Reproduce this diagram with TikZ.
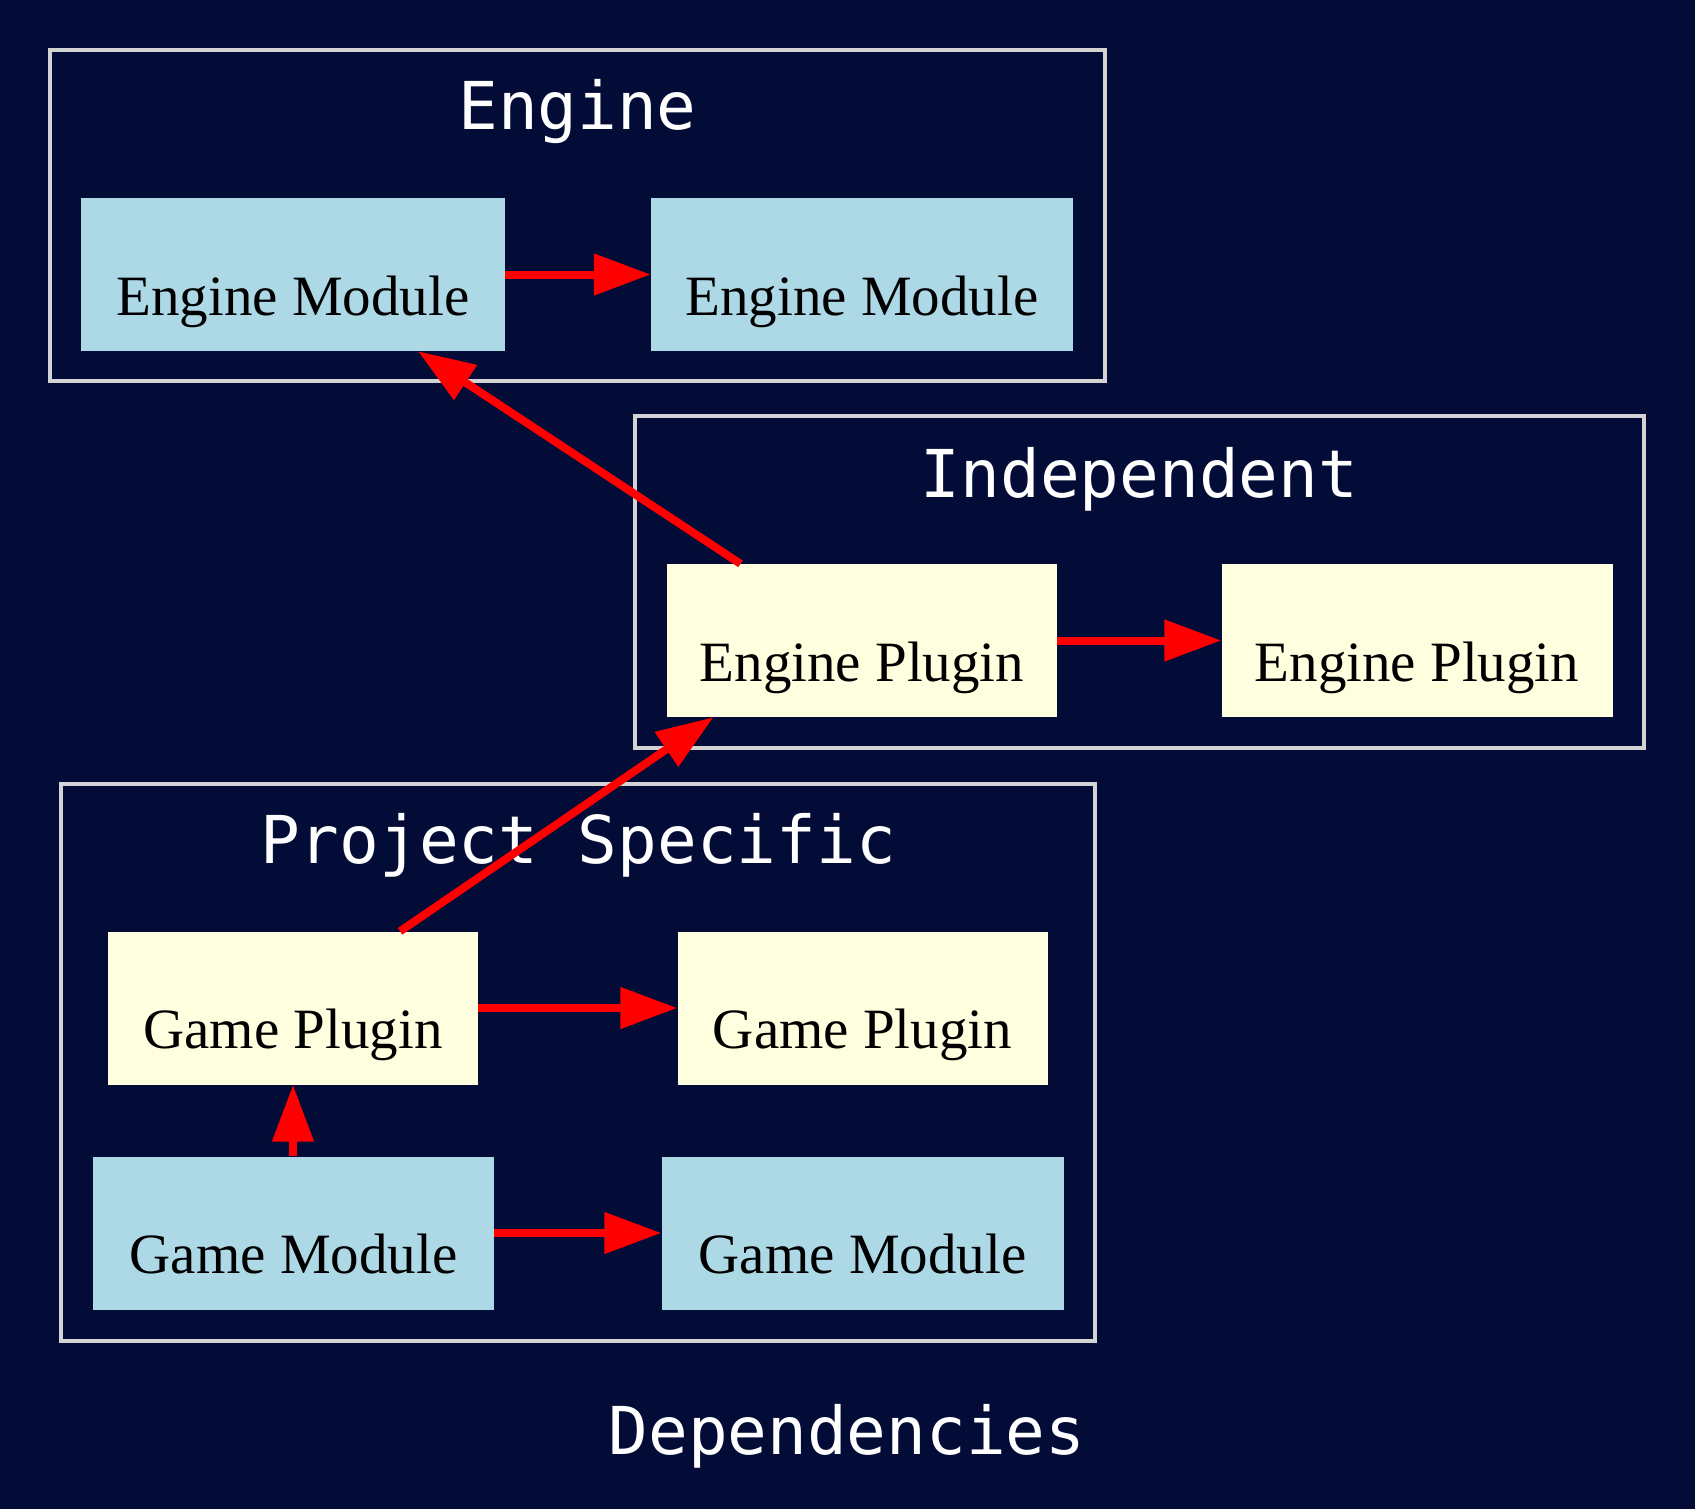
\documentclass[tikz,border=0pt]{standalone}
\usepackage{fontspec}
\setmainfont{Liberation Serif}
\newfontfamily\titlefont{DejaVu Sans Mono}
\usetikzlibrary{arrows.meta,calc}
\definecolor{bgnavy}{RGB}{2,12,54}
\definecolor{modblue}{HTML}{ADD8E6}
\definecolor{plugyellow}{HTML}{FFFFE0}
\definecolor{clgray}{HTML}{D3D3D3}
\tikzset{
  cluster/.style={draw=clgray, line width=4.5pt},
  boxnode/.style={rectangle, inner sep=0pt, minimum height=153pt, text height=81pt, text depth=0pt,
    font=\fontsize{57}{68}\selectfont, text=black},
  modbox/.style={boxnode, fill=modblue},
  plugbox/.style={boxnode, fill=plugyellow},
  ctitle/.style={anchor=base, text=white, font=\titlefont\fontsize{66}{78}\selectfont},
  dep/.style={draw=red, line width=8pt, -{Triangle[length=57pt,width=40pt]}}
}
\begin{document}
\begin{tikzpicture}[x=1pt,y=-1pt]
\fill[bgnavy] (0,0) rectangle (1695,1509);
\useasboundingbox (0,0) rectangle (1695,1509);
% clusters
\draw[cluster] (50,50) rectangle (1105,381);
\draw[cluster] (635,416) rectangle (1644,748);
\draw[cluster] (61,784) rectangle (1095,1341);
\node[ctitle] (tEngine) at (577.5,130) {Engine};
\node[ctitle] (tIndep) at (1139.5,497) {Independent};
\node[ctitle] (tProj) at (578,863) {Project Specific};
\node[ctitle] (tDeps) at (847,1454) {Dependencies};
% nodes
\node[modbox, minimum width=424pt] (em1) at (293,274.5) {Engine Module};
\node[modbox, minimum width=422pt] (em2) at (862,274.5) {Engine Module};
\node[plugbox, minimum width=390pt] (ep1) at (862,640.5) {Engine Plugin};
\node[plugbox, minimum width=391pt] (ep2) at (1417,640.5) {Engine Plugin};
\node[plugbox, minimum width=370pt] (gp1) at (293,1008) {Game Plugin};
\node[plugbox, minimum width=370pt] (gp2) at (862.5,1008) {Game Plugin};
\node[modbox, minimum width=401pt] (gm1) at (293.5,1233) {Game Module};
\node[modbox, minimum width=402pt] (gm2) at (862.5,1233) {Game Module};
% edges
\draw[dep] (em1) -- (em2);
\draw[dep] ([xshift=-121.5pt]ep1.north) -- ([xshift=125pt]em1.south);
\draw[dep] (ep1) -- (ep2);
\draw[dep] ([xshift=107pt]gp1.north) -- ([xshift=-148.5pt]ep1.south);
\draw[dep] (gp1) -- (gp2);
\draw[dep] (gm1.north -| gp1.south) -- (gp1.south);
\draw[dep] (gm1) -- (gm2);
\end{tikzpicture}
\end{document}
